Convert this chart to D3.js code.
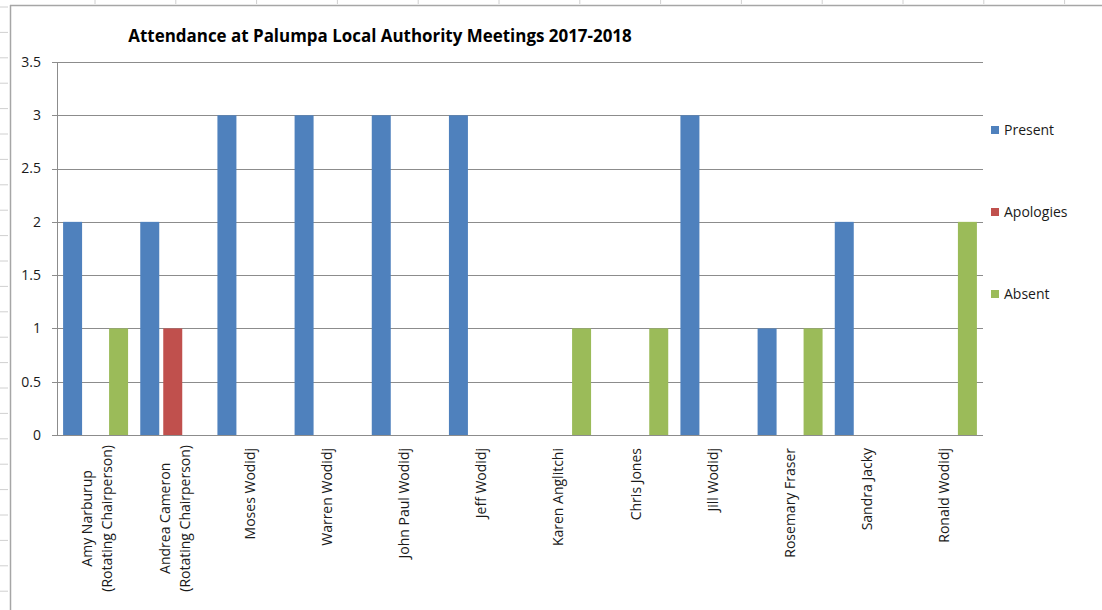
<!DOCTYPE html>
<html><head><meta charset="utf-8">
<script src="https://cdn.jsdelivr.net/npm/d3@7"></script>
<style>body{margin:0;background:#fff}svg{display:block}</style>
</head><body>
<svg id="c" width="1102" height="610"></svg>
<script>
const categories = [
  ["Amy Narburup","(Rotating Chairperson)"],
  ["Andrea Cameron","(Rotating Chairperson)"],
  ["Moses Wodidj"],["Warren Wodidj"],["John Paul Wodidj"],["Jeff Wodidj"],
  ["Karen Anglitchi"],["Chris Jones"],["Jill Wodidj"],["Rosemary Fraser"],
  ["Sandra Jacky"],["Ronald Wodidj"]
];
const seriesNames = ["Present","Apologies","Absent"];
const present   = [2,2,3,3,3,3,0,0,3,1,2,0];
const apologies = [0,1,0,0,0,0,0,0,0,0,0,0];
const absent    = [1,0,0,0,0,0,1,1,0,1,0,2];
const yTicks = [0,0.5,1,1.5,2,2.5,3,3.5];
const colors = ["#4F81BD","#C0504D","#9BBB59"];
const title = "Attendance at Palumpa Local Authority Meetings 2017-2018";

const values = [present, apologies, absent];
const font = "'Open Sans', sans-serif";
const svg = d3.select("#c");

// spreadsheet frame decoration
const frame = svg.append("g");
frame.append("line").attr("x1",10).attr("x2",1102).attr("y1",5.5).attr("y2",5.5).attr("stroke","#a6a6a6").attr("stroke-width",1.5);
frame.append("line").attr("x1",10.5).attr("x2",10.5).attr("y1",5).attr("y2",610).attr("stroke","#a6a6a6").attr("stroke-width",1.5);
d3.range(95,1102,80.8).forEach(x=>frame.append("line").attr("x1",x).attr("x2",x).attr("y1",0).attr("y2",4).attr("stroke","#d0d0d0"));
d3.range(7,610,25.4).forEach(y=>frame.append("line").attr("x1",0).attr("x2",8).attr("y1",y).attr("y2",y).attr("stroke","#d0d0d0"));

const L=57, R=983, T=62, B=435;
const x0 = d3.scaleBand().domain(d3.range(categories.length)).range([L,R]);
const x1 = d3.scaleBand().domain(seriesNames).range([0,x0.bandwidth()]).paddingInner(0.174).paddingOuter(0.265);
const y = d3.scaleLinear().domain([0,3.5]).range([B,T]);

// gridlines
svg.append("g").selectAll("line").data(yTicks).join("line")
  .attr("x1",L-5).attr("x2",R).attr("y1",d=>Math.round(y(d))+0.5).attr("y2",d=>Math.round(y(d))+0.5)
  .attr("stroke","#8c8c8c").attr("stroke-width",1);
svg.append("line").attr("x1",L+0.5).attr("x2",L+0.5).attr("y1",Math.round(T)).attr("y2",Math.round(B)+1).attr("stroke","#8c8c8c");

// y labels
svg.append("g").selectAll("text").data(yTicks).join("text")
  .attr("x",41).attr("y",d=>y(d)).attr("dy","0.35em").attr("text-anchor","end")
  .attr("font-family",font).attr("font-size",14).attr("fill","#1a1a1a").text(d=>d);

// bars
const gs = svg.append("g").selectAll("g").data(seriesNames).join("g").attr("fill",(d,i)=>colors[i]);
gs.selectAll("rect").data((s,i)=>values[i].map((v,j)=>({s,v,j}))).join("rect")
  .attr("x",d=>x0(d.j)+x1(d.s)).attr("width",x1.bandwidth())
  .attr("y",d=>y(d.v)).attr("height",d=>y(0)-y(d.v));

// axis line redraw on top
svg.append("line").attr("x1",L).attr("x2",R).attr("y1",Math.round(B)+0.5).attr("y2",Math.round(B)+0.5).attr("stroke","#8c8c8c");

// x labels (rotated, multi-line centred within block)
const xl = svg.append("g").selectAll("g").data(categories).join("g")
  .attr("transform",(d,i)=>`translate(${x0(i)+x0.bandwidth()/2},${d.length>1?445:448}) rotate(-90)`);
xl.each(function(lines){
  const g=d3.select(this);
  const n=lines.length;
  const ts = lines.map((t,k)=>g.append("text").attr("y",(k-(n-1)/2)*20+(n>1?2:0)).attr("dy","0.35em")
     .attr("font-family",font).attr("font-size",14).attr("fill","#1a1a1a").text(t));
  const maxW = d3.max(ts, t=>t.node().getComputedTextLength());
  ts.forEach(t=>t.attr("x",-maxW/2).attr("text-anchor","middle"));
});

// title
const tt = svg.append("text").attr("x",380).attr("y",42).attr("text-anchor","middle")
  .attr("font-family",font).attr("font-weight","bold").attr("font-size",15).attr("fill","#000").text(title);
const tw = tt.node().getComputedTextLength();
tt.attr("font-size",15*504/tw);

// legend
const lg = svg.append("g").selectAll("g").data(seriesNames).join("g")
  .attr("transform",(d,i)=>`translate(991,${130+i*82})`);
lg.append("rect").attr("x",0).attr("y",-4).attr("width",8).attr("height",8).attr("fill",(d,i)=>colors[i]);
lg.append("text").attr("x",13).attr("y",0).attr("dy","0.35em").attr("font-family",font).attr("font-size",14).attr("fill","#1a1a1a").text(d=>d);
</script>
</body></html>
